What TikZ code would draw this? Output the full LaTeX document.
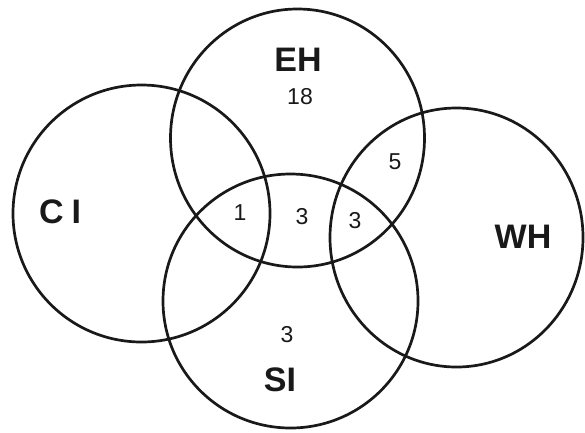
\documentclass[tikz,border=0pt]{standalone}
\usepackage{fontspec}
\setmainfont{Liberation Sans}
\usetikzlibrary{shapes.geometric}
\begin{document}
\begin{tikzpicture}[x=1pt,y=-1pt,
  setring/.style={draw=black!90, line width=2.7pt, ellipse, inner sep=0pt, fill=none},
  setname/.style={font=\fontsize{34}{36}\selectfont\bfseries, inner sep=0pt, text=black!90},
  count/.style={font=\fontsize{23}{25}\selectfont, inner sep=0pt, text=black!90}]
\useasboundingbox (0,0) rectangle (585,432);
\node[setring, minimum width=257pt, minimum height=257pt] (ci) at (141.5,213.5) {};
\node[setring, minimum width=254pt, minimum height=258pt] (eh) at (297.5,138) {};
\node[setring, minimum width=253pt, minimum height=259pt] (wh) at (456.5,237.5) {};
\node[setring, minimum width=255pt, minimum height=254pt] (si) at (290.5,301) {};
\node[setname] (lci) at (60,212) {C\kern8pt I};
\node[setname] (leh) at (298,60) {EH};
\node[setname] (lwh) at (523,237) {WH};
\node[setname] (lsi) at (280,380) {SI};
\node[count] (n18) at (300,97) {18};
\node[count] (n1) at (240,213) {1};
\node[count] (n3a) at (302,217) {3};
\node[count] (n3b) at (355,221) {3};
\node[count] (n5) at (395,162) {5};
\node[count] (n3c) at (287,335) {3};
\end{tikzpicture}
\end{document}
